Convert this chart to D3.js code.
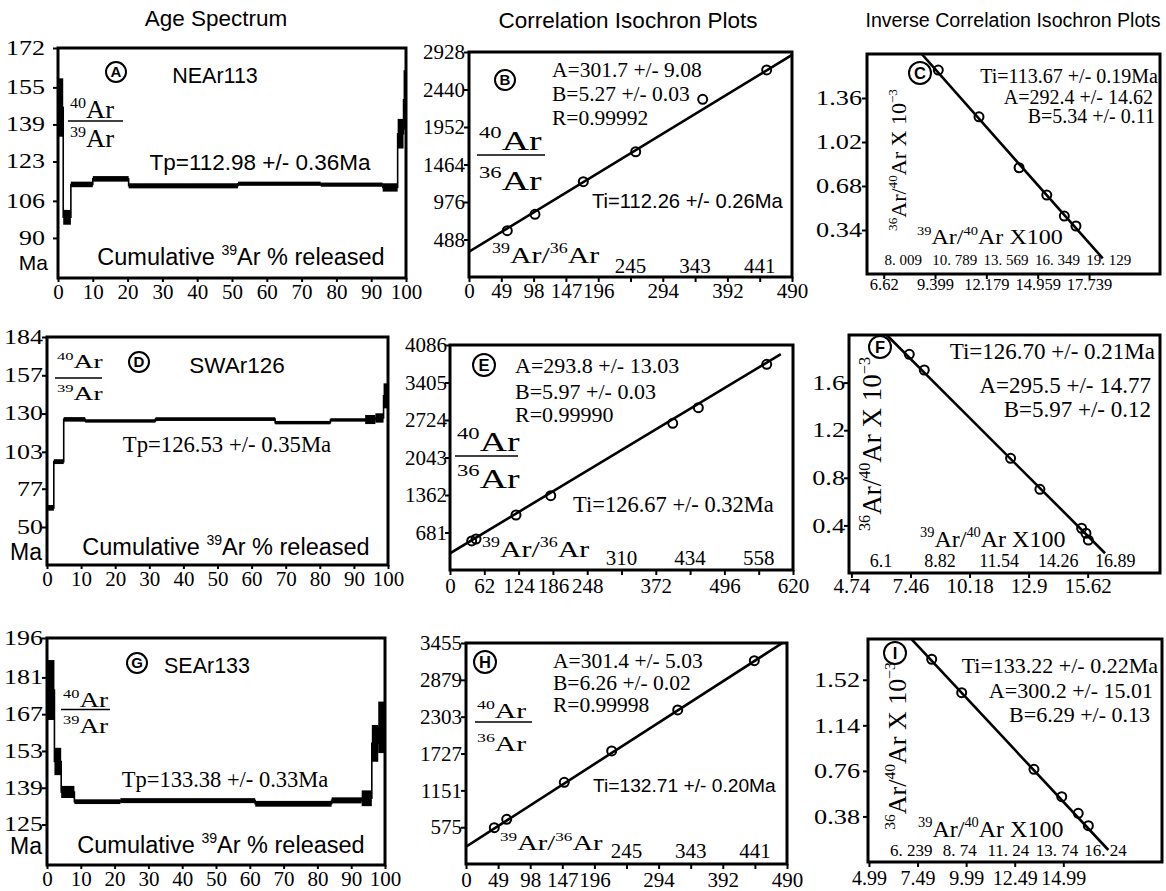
<!DOCTYPE html>
<html><head><meta charset="utf-8">
<script src="https://cdn.jsdelivr.net/npm/d3@7"></script>
<style>body{margin:0;background:#fff}svg{display:block}</style>
</head><body>
<svg id="chart" width="1166" height="891"></svg>
<script>
// ================= DATA =================
const columnTitles = ["Age Spectrum", "Correlation Isochron Plots", "Inverse Correlation Isochron Plots"];
const sampleNames = ["NEAr113", "SWAr126", "SEAr133"];
const spectrumXTicks = [0, 10, 20, 30, 40, 50, 60, 70, 80, 90, 100];

// --- Age spectra: cumulative 39Ar % step boundaries, apparent age (Ma), half error
const specA_cum = [0, 1.5, 3.7, 10.0, 20.3, 51.7, 75.5, 93.3, 97.6, 99.3, 100];
const specA_age = [146.3, 98.9, 113.1, 115.5, 112.5, 113.4, 113.0, 111.8, 135.0, 149.6];
const specA_err = [12.6, 3.2, 1.2, 1.2, 1.1, 0.9, 0.9, 1.8, 6.4, 12.8];
const specA_yDomain = [72.7, 172];
const specA_yTicks = [90, 106, 123, 139, 155, 172];
const specA_plateau = "Tp=112.98 +/- 0.36Ma";

const specD_cum = [0, 2.0, 4.9, 11.2, 31.8, 66.9, 83.1, 93.3, 96.3, 98.7, 100];
const specD_age = [63.5, 96.1, 125.9, 124.8, 126.1, 123.6, 125.5, 125.8, 126.9, 142.5];
const specD_err = [2.0, 1.7, 1.6, 1.2, 1.3, 1.2, 1.2, 3.2, 3.3, 8.8];
const specD_yDomain = [23.2, 184];
const specD_yTicks = [50, 77, 103, 130, 157, 184];
const specD_plateau = "Tp=126.53 +/- 0.35Ma";

const specG_cum = [0, 2.2, 4.2, 8.1, 21.7, 61.6, 84.2, 93.1, 96.1, 98.0, 100];
const specG_age = [176.2, 149.0, 137.4, 133.7, 134.1, 132.9, 134.2, 135.0, 155.9, 162.0];
const specG_err = [11.4, 5.2, 2.3, 0.9, 0.95, 1.1, 1.15, 3.0, 7.0, 9.8];
const specG_yDomain = [109.6, 196];
const specG_yTicks = [125, 139, 153, 167, 181, 196];
const specG_plateau = "Tp=133.38 +/- 0.33Ma";

// --- Normal isochrons: 39Ar/36Ar (x) vs 40Ar/36Ar (y)
const isoB_x = [58.1, 100.1, 173.4, 252.9, 354.5, 451.6];
const isoB_y = [602.5, 816, 1240, 1630, 2312, 2694];
const isoB_lineX = [0, 490];
const isoB_lineY = [329, 2890];
const isoB_xDomain = [0, 490];
const isoB_yDomain = [0, 2928];
const isoB_xTicks = [0, 49, 98, 147, 196, 245, 294, 343, 392, 441, 490];
const isoB_xLabelsBottom = [0, 49, 98, 147, 196, 294, 392, 490];
const isoB_xLabelsInner = [245, 343, 441];
const isoB_yTicks = [488, 976, 1464, 1952, 2440, 2928];
const isoB_stats = ["A=301.7 +/- 9.08", "B=5.27 +/- 0.03", "R=0.99992"];
const isoB_age = "Ti=112.26 +/- 0.26Ma";

const isoE_x = [39.2, 47.0, 119.3, 182.1, 402.6, 448.9, 572.5];
const isoE_y = [527, 563, 999, 1349, 2664, 2947, 3735];
const isoE_lineX = [0, 598];
const isoE_lineY = [303, 3920];
const isoE_xDomain = [0, 620];
const isoE_yDomain = [0, 4086];
const isoE_xTicks = [0, 62, 124, 186, 248, 310, 372, 434, 496, 558, 620];
const isoE_xLabelsBottom = [0, 62, 124, 186, 248, 372, 496, 620];
const isoE_xLabelsInner = [310, 434, 558];
const isoE_yTicks = [681, 1362, 2043, 2724, 3405, 4086];
const isoE_stats = ["A=293.8 +/- 13.03", "B=5.97 +/- 0.03", "R=0.99990"];
const isoE_age = "Ti=126.67 +/- 0.32Ma";

const isoH_x = [43.2, 62.1, 150.0, 222.4, 323.2, 440.1];
const isoH_y = [567, 699, 1277, 1767, 2408, 3178];
const isoH_lineX = [0, 483];
const isoH_lineY = [270, 3455];
const isoH_xDomain = [0, 490];
const isoH_yDomain = [0, 3455];
const isoH_xTicks = [0, 49, 98, 147, 196, 245, 294, 343, 392, 441, 490];
const isoH_xLabelsBottom = [0, 49, 98, 147, 196, 294, 392, 490];
const isoH_xLabelsInner = [245, 343, 441];
const isoH_yTicks = [575, 1151, 1727, 2303, 2879, 3455];
const isoH_stats = ["A=301.4 +/- 5.03", "B=6.26 +/- 0.02", "R=0.99998"];
const isoH_age = "Ti=132.71 +/- 0.20Ma";

// --- Inverse isochrons: 39Ar/40Ar x100 (x) vs 36Ar/40Ar x10^-3 (y)
const invC_x = [9.576, 11.78, 13.95, 15.45, 16.40, 17.03];
const invC_y = [1.576, 1.215, 0.821, 0.610, 0.448, 0.371];
const invC_lineX = [8.678, 18.48];
const invC_lineY = [1.7, 0.121];
const invC_xDomain = [5.716, 21.58];
const invC_yDomain = [0, 1.7];
const invC_xLabelsBottom = [6.62, 9.399, 12.179, 14.959, 17.739];
const invC_xInnerValues = [8.009, 10.789, 13.569, 16.349, 19.129];
const invC_xInnerLabels = ["8. 009", "10. 789", "13. 569", "16. 349", "19. 129"];
const invC_yTicks = [0.34, 0.68, 1.02, 1.36];
const invC_stats = ["Ti=113.67 +/- 0.19Ma", "A=292.4 +/- 14.62", "B=5.34 +/- 0.11"];

const invF_x = [7.406, 8.097, 12.07, 13.42, 15.34, 15.54, 15.65];
const invF_y = [1.838, 1.706, 0.964, 0.703, 0.376, 0.334, 0.277];
const invF_lineX = [6.366, 16.42];
const invF_lineY = [2.0, 0.166];
const invF_xDomain = [4.63, 18.95];
const invF_yDomain = [0, 2.0];
const invF_xLabelsBottom = [4.74, 7.46, 10.18, 12.9, 15.62];
const invF_xInnerValues = [6.1, 8.82, 11.54, 14.26, 16.89];
const invF_xInnerLabels = ["6.1", "8.82", "11.54", "14.26", "16.89"];
const invF_yTicks = [0.4, 0.8, 1.2, 1.6];
const invF_stats = ["Ti=126.70 +/- 0.21Ma", "A=295.5 +/- 14.77", "B=5.97 +/- 0.12"];

const invI_x = [8.218, 9.762, 13.48, 14.91, 15.76, 16.28];
const invI_y = [1.691, 1.412, 0.773, 0.545, 0.406, 0.303];
const invI_lineX = [7.189, 17.31];
const invI_lineY = [1.857, 0.1];
const invI_xDomain = [4.94, 20.07];
const invI_yDomain = [0, 1.86];
const invI_xLabelsBottom = [4.99, 7.49, 9.99, 12.49, 14.99];
const invI_xInnerValues = [6.239, 8.74, 11.24, 13.74, 16.24];
const invI_xInnerLabels = ["6. 239", "8. 74", "11. 24", "13. 74", "16. 24"];
const invI_yTicks = [0.38, 0.76, 1.14, 1.52];
const invI_stats = ["Ti=133.22 +/- 0.22Ma", "A=300.2 +/- 15.01", "B=6.29 +/- 0.13"];

// ================= DRAWING =================
const SERIF = "'Liberation Serif','Times New Roman',serif";
const SANS = "'Liberation Sans',Arial,sans-serif";
const svg = d3.select('#chart');
let clipId = 0;

function rich(g, o) {
  const sx = o.sx || 1;
  let tr = `translate(${o.x},${o.y})`;
  if (o.rotate) tr += ` rotate(${o.rotate})`;
  tr += ` scale(${sx},1)`;
  const t = g.append('text').attr('transform', tr)
    .attr('font-family', o.family || SERIF).attr('font-size', o.size)
    .attr('text-anchor', o.anchor || 'start').attr('fill', '#000');
  const parts = typeof o.parts === 'string' ? [o.parts] : o.parts;
  let cur = 0;
  parts.forEach(p => {
    const sup = typeof p === 'object';
    const s = t.append('tspan').text(sup ? p.t : p);
    const target = sup ? -o.size * 0.42 : 0;
    if (sup) s.attr('font-size', o.size * 0.6);
    if (target !== cur) { s.attr('dy', target - cur); cur = target; }
  });
  return t;
}
function circled(g, cx, cy, r, letter) {
  g.append('circle').attr('cx', cx).attr('cy', cy).attr('r', r)
    .attr('fill', 'none').attr('stroke', '#000').attr('stroke-width', 2);
  g.append('text').attr('x', cx).attr('y', cy).attr('dy', '0.36em')
    .attr('text-anchor', 'middle').attr('font-family', SANS).attr('font-weight', 'bold')
    .attr('font-size', r * 1.5).text(letter);
}
function fraction(g, f, num, den) {
  rich(g, {x: f.x, y: f.num, size: f.size, sx: f.sx, parts: num});
  g.append('line').attr('x1', f.x - 2).attr('x2', f.x2).attr('y1', f.line).attr('y2', f.line)
    .attr('stroke', '#000').attr('stroke-width', 1.6);
  rich(g, {x: f.x, y: f.den, size: f.size, sx: f.sx, parts: den});
}
function frame(g, b) {
  g.append('rect').attr('x', b.x0).attr('y', b.y0).attr('width', b.x1 - b.x0).attr('height', b.y1 - b.y0)
    .attr('fill', 'none').attr('stroke', '#000').attr('stroke-width', 3);
}
function styleAxis(a, size, sx) {
  a.select('.domain').remove();
  a.selectAll('line').attr('stroke', '#000').attr('stroke-width', 2);
  a.selectAll('text').attr('font-family', SERIF).attr('font-size', size).attr('fill', '#000')
    .each(function () {
      if (sx && sx !== 1) {
        const x = +this.getAttribute('x') || 0;
        this.setAttribute('x', x / sx);
        this.setAttribute('transform', `scale(${sx},1)`);
      }
    });
}

function drawSpectrum(b, d) {
  const g = svg.append('g');
  const x = d3.scaleLinear().domain([0, 100]).range([b.x0, b.x1]);
  const y = d3.scaleLinear().domain(d.yDomain).range([b.y1, b.y0]);
  const pts = [];
  d.age.forEach((a, i) => { pts.push([x(d.cum[i]), y(a)], [x(d.cum[i + 1]), y(a)]); });
  g.append('path').attr('d', d3.line()(pts)).attr('fill', 'none').attr('stroke', '#000').attr('stroke-width', 1.6);
  g.selectAll(null).data(d.age).join('rect')
    .attr('x', (a, i) => x(d.cum[i])).attr('width', (a, i) => x(d.cum[i + 1]) - x(d.cum[i]))
    .attr('y', (a, i) => y(a + d.err[i])).attr('height', (a, i) => y(a - d.err[i]) - y(a + d.err[i]))
    .attr('fill', '#000');
  frame(g, b);
  const ay = g.append('g').attr('transform', `translate(${b.x0},0)`)
    .call(d3.axisLeft(y).tickValues(d.yTicks).tickSize(5).tickPadding(b.yPad).tickFormat(v => String(v)));
  styleAxis(ay, 20, 1.3);
  const ax = g.append('g').attr('transform', `translate(0,${b.y1})`)
    .call(d3.axisBottom(x).tickValues(spectrumXTicks).tickSize(4).tickPadding(b.xPad).tickFormat(v => String(v)));
  styleAxis(ax, 21);
  return g;
}

function drawIso(b, d) {
  const g = svg.append('g');
  const x = d3.scaleLinear().domain(d.xDomain).range([b.x0, b.x1]);
  const y = d3.scaleLinear().domain(d.yDomain).range([b.y1, b.y0]);
  const id = 'clip' + (clipId++);
  g.append('clipPath').attr('id', id).append('rect')
    .attr('x', b.x0).attr('y', b.y0).attr('width', b.x1 - b.x0).attr('height', b.y1 - b.y0);
  const lineData = d.lineX.map((v, i) => [v, d.lineY[i]]);
  g.append('path').attr('clip-path', `url(#${id})`)
    .attr('d', d3.line().x(p => x(p[0])).y(p => y(p[1]))(lineData))
    .attr('fill', 'none').attr('stroke', '#000').attr('stroke-width', 2.6);
  g.selectAll(null).data(d.px).join('circle')
    .attr('cx', v => x(v)).attr('cy', (v, i) => y(d.py[i])).attr('r', 4.5)
    .attr('fill', 'none').attr('stroke', '#000').attr('stroke-width', 2);
  frame(g, b);
  const ay = g.append('g').attr('transform', `translate(${b.x0},0)`)
    .call(d3.axisLeft(y).tickValues(d.yTicks).tickSize(5).tickPadding(b.yPad).tickFormat(v => String(v)));
  styleAxis(ay, b.ySize || 21, b.ySx || 1);
  const bottomTicks = d.xTicks || d.xLabelsBottom;
  const ax = g.append('g').attr('transform', `translate(0,${b.y1})`)
    .call(d3.axisBottom(x).tickValues(bottomTicks).tickSize(5).tickPadding(b.xPad)
      .tickFormat(v => d.xLabelsBottom.includes(v) ? String(v) : ''));
  styleAxis(ax, b.xSize || 21);
  const innerVals = d.innerValues;
  const innerLabs = d.innerLabels || innerVals.map(String);
  g.selectAll(null).data(innerVals).join('text')
    .attr('x', v => x(v) + (b.innerDx || 0)).attr('y', b.y1 - b.innerLift)
    .attr('text-anchor', 'middle').attr('font-family', SERIF).attr('font-size', b.innerSize)
    .attr('fill', '#000').text((v, i) => innerLabs[i]);
  return g;
}

// ---- Column titles
rich(svg, {x: 216, y: 26, size: 22.5, family: SANS, anchor: 'middle', parts: columnTitles[0]});
rich(svg, {x: 628, y: 28, size: 22.5, family: SANS, anchor: 'middle', parts: columnTitles[1]});
rich(svg, {x: 1013, y: 27, size: 19.6, family: SANS, anchor: 'middle', parts: columnTitles[2]});

const ar4039num = [{t: '40'}, 'Ar'];
const ar4039den = [{t: '39'}, 'Ar'];
const ar4036den = [{t: '36'}, 'Ar'];
const cumLabel = ['Cumulative ', {t: '39'}, 'Ar % released'];
const ratio3936 = [{t: '39'}, 'Ar/', {t: '36'}, 'Ar'];
const ratio3940 = [{t: '39'}, 'Ar/', {t: '40'}, 'Ar X100'];
const ratio3640 = [{t: '36'}, 'Ar/', {t: '40'}, 'Ar X 10', {t: '\u22123'}];

// ---- Row 1
let g = drawSpectrum({x0: 58, x1: 406, y0: 48, y1: 278, yPad: 8, xPad: 2},
  {cum: specA_cum, age: specA_age, err: specA_err, yDomain: specA_yDomain, yTicks: specA_yTicks});
circled(g, 116, 72, 10, 'A');
rich(g, {x: 215, y: 83, size: 21.5, family: SANS, anchor: 'middle', parts: sampleNames[0]});
fraction(g, {x: 70, x2: 123, num: 118, line: 121, den: 147, size: 25, sx: 1.07}, ar4039num, ar4039den);
rich(g, {x: 260, y: 170, size: 22.5, family: SANS, anchor: 'middle', parts: specA_plateau});
rich(g, {x: 241, y: 265, size: 23.5, family: SANS, anchor: 'middle', parts: cumLabel});
rich(g, {x: 48, y: 270, size: 21, family: SANS, anchor: 'end', parts: 'Ma'});

g = drawIso({x0: 469, x1: 792, y0: 52, y1: 277, yPad: -1, xPad: 1, innerLift: 4, innerSize: 21},
  {px: isoB_x, py: isoB_y, lineX: isoB_lineX, lineY: isoB_lineY, xDomain: isoB_xDomain, yDomain: isoB_yDomain,
   xTicks: isoB_xTicks, xLabelsBottom: isoB_xLabelsBottom, innerValues: isoB_xLabelsInner, yTicks: isoB_yTicks});
circled(g, 505, 80, 10, 'B');
isoB_stats.forEach((s, i) => rich(g, {x: 552, y: 77 + i * 24, size: 21.5, parts: s}));
fraction(g, {x: 479, x2: 545, num: 150, line: 155, den: 190, size: 28, sx: 1.35}, ar4039num, ar4036den);
rich(g, {x: 592, y: 208, size: 20.2, family: SANS, parts: isoB_age});
rich(g, {x: 492, y: 263, size: 23, sx: 1.3, parts: ratio3936});

g = drawIso({x0: 867, x1: 1160, y0: 54, y1: 274, yPad: 0, ySx: 1.25, xPad: -1, xSize: 16.5, innerLift: 9, innerSize: 15, innerDx: -6},
  {px: invC_x, py: invC_y, lineX: invC_lineX, lineY: invC_lineY, xDomain: invC_xDomain, yDomain: invC_yDomain,
   xLabelsBottom: invC_xLabelsBottom, innerValues: invC_xInnerValues, innerLabels: invC_xInnerLabels, yTicks: invC_yTicks});
circled(g, 920, 73, 11, 'C');
[[1158, 83], [1153, 104], [1155, 123]].forEach((p, i) => rich(g, {x: p[0], y: p[1], size: 20, anchor: 'end', parts: invC_stats[i]}));
rich(g, {x: 906, y: 160, size: 22, rotate: -90, anchor: 'middle', parts: ratio3640});
rich(g, {x: 917, y: 244, size: 21.5, sx: 1.12, parts: ratio3940});

// ---- Row 2
g = drawSpectrum({x0: 47, x1: 388, y0: 337, y1: 565, yPad: -1, xPad: 2},
  {cum: specD_cum, age: specD_age, err: specD_err, yDomain: specD_yDomain, yTicks: specD_yTicks});
circled(g, 139, 362, 10, 'D');
rich(g, {x: 237, y: 373, size: 22.5, family: SANS, anchor: 'middle', parts: sampleNames[1]});
fraction(g, {x: 57, x2: 102, num: 368, line: 378, den: 400, size: 19, sx: 1.45}, ar4039num, ar4039den);
rich(g, {x: 227, y: 452, size: 22.7, anchor: 'middle', parts: specD_plateau});
rich(g, {x: 226, y: 555, size: 23.5, family: SANS, anchor: 'middle', parts: cumLabel});
rich(g, {x: 42, y: 560, size: 23, family: SANS, anchor: 'end', parts: 'Ma'});

g = drawIso({x0: 450, x1: 793, y0: 345, y1: 570, yPad: -2, xPad: 3, innerLift: 5, innerSize: 21},
  {px: isoE_x, py: isoE_y, lineX: isoE_lineX, lineY: isoE_lineY, xDomain: isoE_xDomain, yDomain: isoE_yDomain,
   xTicks: isoE_xTicks, xLabelsBottom: isoE_xLabelsBottom, innerValues: isoE_xLabelsInner, yTicks: isoE_yTicks});
circled(g, 484, 365, 11, 'E');
[373, 399, 422].forEach((yy, i) => rich(g, {x: 515, y: yy, size: 22, parts: isoE_stats[i]}));
fraction(g, {x: 457, x2: 518, num: 451, line: 456, den: 488, size: 28, sx: 1.35}, ar4039num, ar4036den);
rich(g, {x: 573, y: 512, size: 22.5, parts: isoE_age});
rich(g, {x: 482, y: 557, size: 23, sx: 1.3, parts: ratio3936});

g = drawIso({x0: 849, x1: 1160, y0: 335, y1: 573, yPad: -1, ySx: 1.25, xPad: 0, xSize: 21, innerLift: 6, innerSize: 18},
  {px: invF_x, py: invF_y, lineX: invF_lineX, lineY: invF_lineY, xDomain: invF_xDomain, yDomain: invF_yDomain,
   xLabelsBottom: invF_xLabelsBottom, innerValues: invF_xInnerValues, innerLabels: invF_xInnerLabels, yTicks: invF_yTicks});
circled(g, 880, 347, 11, 'F');
[[1155, 359], [1151, 393], [1151, 417]].forEach((p, i) => rich(g, {x: p[0], y: p[1], size: 23, anchor: 'end', parts: invF_stats[i]}));
rich(g, {x: 881, y: 444, size: 27, rotate: -90, anchor: 'middle', parts: ratio3640});
rich(g, {x: 920, y: 547, size: 24, parts: ratio3940});

// ---- Row 3
g = drawSpectrum({x0: 47, x1: 385, y0: 638, y1: 865, yPad: -1, xPad: 2},
  {cum: specG_cum, age: specG_age, err: specG_err, yDomain: specG_yDomain, yTicks: specG_yTicks});
circled(g, 137, 663, 10, 'G');
rich(g, {x: 207, y: 673, size: 21.5, family: SANS, anchor: 'middle', parts: sampleNames[2]});
fraction(g, {x: 63, x2: 110, num: 707, line: 709.5, den: 733, size: 21, sx: 1.3}, ar4039num, ar4039den);
rich(g, {x: 225, y: 787, size: 22.5, anchor: 'middle', parts: specG_plateau});
rich(g, {x: 221, y: 853, size: 23.5, family: SANS, anchor: 'middle', parts: cumLabel});
rich(g, {x: 42, y: 854, size: 23, family: SANS, anchor: 'end', parts: 'Ma'});

g = drawIso({x0: 466, x1: 787, y0: 643, y1: 864, yPad: -1, xPad: 3, innerLift: 6, innerSize: 21},
  {px: isoH_x, py: isoH_y, lineX: isoH_lineX, lineY: isoH_lineY, xDomain: isoH_xDomain, yDomain: isoH_yDomain,
   xTicks: isoH_xTicks, xLabelsBottom: isoH_xLabelsBottom, innerValues: isoH_xLabelsInner, yTicks: isoH_yTicks});
circled(g, 485, 662, 11, 'H');
[668, 690, 712].forEach((yy, i) => rich(g, {x: 553, y: yy, size: 21.5, parts: isoH_stats[i]}));
fraction(g, {x: 477, x2: 532, num: 718, line: 722, den: 751, size: 22, sx: 1.35}, ar4039num, ar4036den);
rich(g, {x: 593, y: 792, size: 19.2, family: SANS, parts: isoH_age});
rich(g, {x: 500, y: 850, size: 22, sx: 1.3, parts: ratio3936});

g = drawIso({x0: 868, x1: 1162, y0: 639, y1: 862, yPad: 3, ySx: 1.25, xPad: 4, xSize: 20, innerLift: 6, innerSize: 17, innerDx: 18},
  {px: invI_x, py: invI_y, lineX: invI_lineX, lineY: invI_lineY, xDomain: invI_xDomain, yDomain: invI_yDomain,
   xLabelsBottom: invI_xLabelsBottom, innerValues: invI_xInnerValues, innerLabels: invI_xInnerLabels, yTicks: invI_yTicks});
circled(g, 895, 653, 11, 'I');
[[1158, 673], [1153, 698], [1150, 722]].forEach((p, i) => rich(g, {x: p[0], y: p[1], size: 22, anchor: 'end', parts: invI_stats[i]}));
rich(g, {x: 906, y: 746, size: 26, rotate: -90, anchor: 'middle', parts: ratio3640});
rich(g, {x: 918, y: 837, size: 24, parts: ratio3940});
</script>
</body></html>
